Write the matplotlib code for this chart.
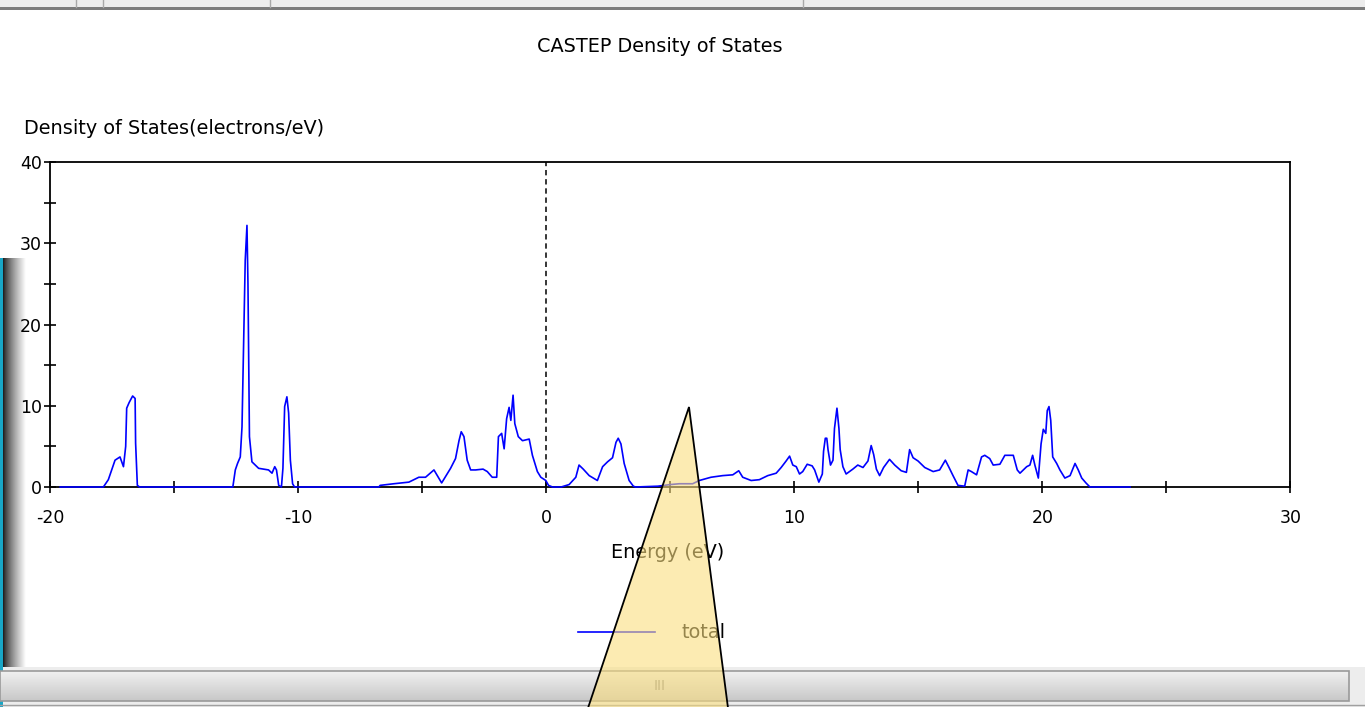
import numpy as np
import matplotlib
matplotlib.use("Agg")
import matplotlib.pyplot as plt
from matplotlib.patches import Rectangle, Polygon

plt.rcParams['font.family'] = ['DejaVu Sans']
plt.rcParams['axes.unicode_minus'] = False

# ---------------- data ----------------
energy_a = [-19.60, -17.86, -17.66, -17.39, -17.19, -17.05, -16.96, -16.92, -16.82, -16.68, -16.58, -16.56, -16.49, -16.40]
dos_a    = [0.0, 0.0, 0.9, 3.3, 3.7, 2.5, 5.0, 9.7, 10.4, 11.2, 10.9, 5.4, 0.2, 0.0]

energy_b = [-12.64, -12.54, -12.45, -12.34, -12.27, -12.23, -12.14, -12.07, -12.03, -11.97, -11.87, -11.60, -11.20,
            -11.06, -10.95, -10.88, -10.79, -10.68, -10.62, -10.55, -10.46, -10.39, -10.32, -10.23, -10.15]
dos_b    = [0.0, 2.1, 2.9, 3.7, 7.4, 13.6, 27.9, 32.2, 25.1, 6.2, 3.1, 2.3, 2.1,
            1.7, 2.5, 2.1, 0.2, 0.0, 2.3, 9.9, 11.1, 9.1, 3.3, 0.4, 0.0]

energy_c = [-6.75, -6.70, -6.15, -5.54, -5.14, -4.87, -4.53, -4.22, -3.86, -3.66,
            -3.52, -3.43, -3.32, -3.19, -3.05, -2.85, -2.55, -2.38, -2.18, -2.00,
            -1.93, -1.80, -1.70, -1.60, -1.50, -1.43, -1.34, -1.27, -1.13, -0.96,
            -0.69, -0.56, -0.36, -0.22, -0.02, 0.09, 0.25, 0.60, 0.92, 1.19,
            1.32, 1.49, 1.73, 2.06, 2.27, 2.47, 2.67, 2.81, 2.90, 3.01,
            3.14, 3.34, 3.51, 3.60]
dos_c    = [0.0, 0.2, 0.4, 0.6, 1.2, 1.2, 2.1, 0.5, 2.3, 3.5,
            5.7, 6.8, 6.2, 3.3, 2.1, 2.1, 2.2, 1.9, 1.2, 1.2,
            6.2, 6.6, 4.7, 8.4, 9.8, 8.2, 11.3, 7.8, 6.2, 5.7,
            5.9, 3.9, 1.9, 1.2, 0.8, 0.2, 0.0, 0.0, 0.3, 1.2,
            2.7, 2.2, 1.4, 0.8, 2.5, 3.1, 3.6, 5.5, 6.0, 5.3,
            2.9, 0.8, 0.1, 0.0]

energy_d = [4.50, 5.00, 5.36, 5.90, 6.17, 6.64, 7.11, 7.52, 7.76, 7.92,
            8.26, 8.59, 8.93, 9.27, 9.47, 9.67, 9.81, 9.94, 10.08, 10.21,
            10.34, 10.52, 10.72, 10.82, 10.99, 11.13, 11.18, 11.25, 11.31, 11.36,
            11.46, 11.56, 11.62, 11.72, 11.80, 11.85, 11.96, 12.09, 12.36, 12.56,
            12.77, 12.97, 13.10, 13.20, 13.31, 13.44, 13.60, 13.84, 14.05, 14.31,
            14.52, 14.65, 14.79, 14.99, 15.26, 15.60, 15.86, 16.09, 16.24, 16.40,
            16.60, 16.87, 17.01, 17.14, 17.35, 17.55, 17.68, 17.88, 18.02, 18.29,
            18.49, 18.83, 18.99, 19.10, 19.37, 19.50, 19.61, 19.70, 19.84, 19.95,
            20.04, 20.14, 20.20, 20.27, 20.34, 20.42, 20.58, 20.71, 20.91, 21.12,
            21.32, 21.45, 21.59, 21.76, 21.92, 23.54]
dos_d    = [0.1, 0.3, 0.4, 0.4, 0.8, 1.2, 1.4, 1.5, 2.0, 1.2,
            0.8, 0.9, 1.4, 1.7, 2.4, 3.2, 3.8, 2.7, 2.5, 1.6,
            1.9, 2.8, 2.6, 2.1, 0.6, 1.6, 4.4, 6.0, 6.0, 4.6,
            2.7, 3.3, 7.2, 9.7, 7.2, 4.6, 2.5, 1.6, 2.2, 2.7,
            2.4, 3.2, 5.1, 4.0, 2.2, 1.4, 2.4, 3.4, 2.7, 2.0,
            1.8, 4.6, 3.6, 3.2, 2.4, 1.9, 2.1, 3.3, 2.4, 1.4,
            0.2, 0.1, 2.1, 1.9, 1.5, 3.7, 3.9, 3.5, 2.7, 2.8,
            3.9, 3.9, 2.1, 1.7, 2.5, 2.7, 3.9, 2.7, 1.1, 5.3,
            7.1, 6.6, 9.4, 9.9, 8.2, 3.7, 2.9, 2.1, 1.1, 1.4,
            2.9, 2.1, 1.1, 0.5, 0.0, 0.0]

fermi_level = 0.0
x_ticks = [-20, -10, 0, 10, 20, 30]
y_ticks = [0, 10, 20, 30, 40]
series_label = "total"

energy = np.array(energy_a + energy_b + energy_c + energy_d)
dos = np.array(dos_a + dos_b + dos_c + dos_d)

# ---------------- figure ----------------
W, H = 1365, 707
fig = plt.figure(figsize=(W / 100, H / 100), dpi=100)
fig.patch.set_facecolor("white")

def fx(x):
    return x / W

def fy(y):
    return 1 - y / H

# background decoration axes (pixel coords, y downward)
bg = fig.add_axes([0, 0, 1, 1], zorder=-5)
bg.set_xlim(0, W)
bg.set_ylim(H, 0)
bg.axis("off")
# top window strip
bg.add_patch(Rectangle((0, 0), W, 7, color="#ececec", lw=0))
bg.add_patch(Rectangle((0, 7), W, 3, color="#7b7b7b", lw=0))
for sx in (76, 103, 270, 803):
    bg.plot([sx, sx], [0, 7], color="#a8a8a8", lw=1)
# left dark shadow
grad = np.linspace(0, 1, 64)[None, :] ** 0.7
bg.imshow(grad, cmap="gray", extent=(2, 26, 707, 258), aspect="auto", vmin=0, vmax=1, zorder=1)
bg.add_patch(Rectangle((0, 258), 2.5, 449, color="#19a6c6", lw=0, zorder=2))
# scroll bar
bg.add_patch(Rectangle((0, 667), W, 40, color="#ededed", lw=0, zorder=1))
sgrad = np.linspace(0, 1, 32)[:, None]
bg.imshow(sgrad, cmap=matplotlib.colors.LinearSegmentedColormap.from_list("s", ["#f0f0f0", "#c8c8c8"]),
          extent=(0, 1349, 701, 671), aspect="auto", zorder=2)
bg.add_patch(Rectangle((0, 671), 1349, 30, fill=False, ec="#9a9a9a", lw=1.2, zorder=3))
bg.plot([0, W], [705, 705], color="#a0a0a0", lw=1, zorder=3)
bg.text(660, 686, "III", ha="center", va="center", fontsize=10, color="#8a8a8a", zorder=4)

# main chart
ax = fig.add_axes([fx(50.3), fy(487), fx(1290.3) - fx(50.3), fy(162) - fy(487)])
ax.plot(energy, dos, color="#0000ff", lw=1.2, label=series_label, zorder=4, clip_on=False)
ax.axvline(fermi_level, color="black", lw=1.1, ls=(0, (3.5, 2.5)), zorder=3)
ax.set_xlim(-20, 30)
ax.set_ylim(0, 40)
ax.set_xticks(x_ticks)
ax.set_yticks(y_ticks)
ax.set_xticks([-15, -5, 5, 15, 25], minor=True)
ax.set_yticks([5, 15, 25, 35], minor=True)
ax.tick_params(which="both", direction="inout", length=8, width=1.2, color="black",
               labelsize=12.5, top=False, right=False)
ax.tick_params(axis="x", pad=12)
ax.tick_params(axis="y", pad=2)
for s in ax.spines.values():
    s.set_linewidth(1.3)
    s.set_color("black")

fs = 13.9
fig.text(fx(660), fy(46), "CASTEP Density of States", ha="center", va="center", fontsize=fs)
fig.text(fx(24), fy(128), "Density of States(electrons/eV)", ha="left", va="center", fontsize=fs)
fig.text(fx(668), fy(552), "Energy (eV)", ha="center", va="center", fontsize=fs)

# legend
fig.legend(handles=ax.get_lines()[:1], labels=[series_label], loc="center left",
           bbox_to_anchor=(fx(578), fy(633)), frameon=False, borderpad=0, borderaxespad=0,
           handlelength=4.0, handletextpad=1.35, fontsize=fs)

# yellow callout triangle overlay
ov = fig.add_axes([0, 0, 1, 1], zorder=20)
ov.set_xlim(0, W)
ov.set_ylim(H, 0)
ov.axis("off")
ov.patch.set_alpha(0)
ov.add_patch(Polygon([(689, 407), (588, 708), (728, 708)], closed=True,
                     fc=(0.98, 0.87, 0.5, 0.6), ec="black", lw=1.3))

fig.savefig("out.png", dpi=100)
